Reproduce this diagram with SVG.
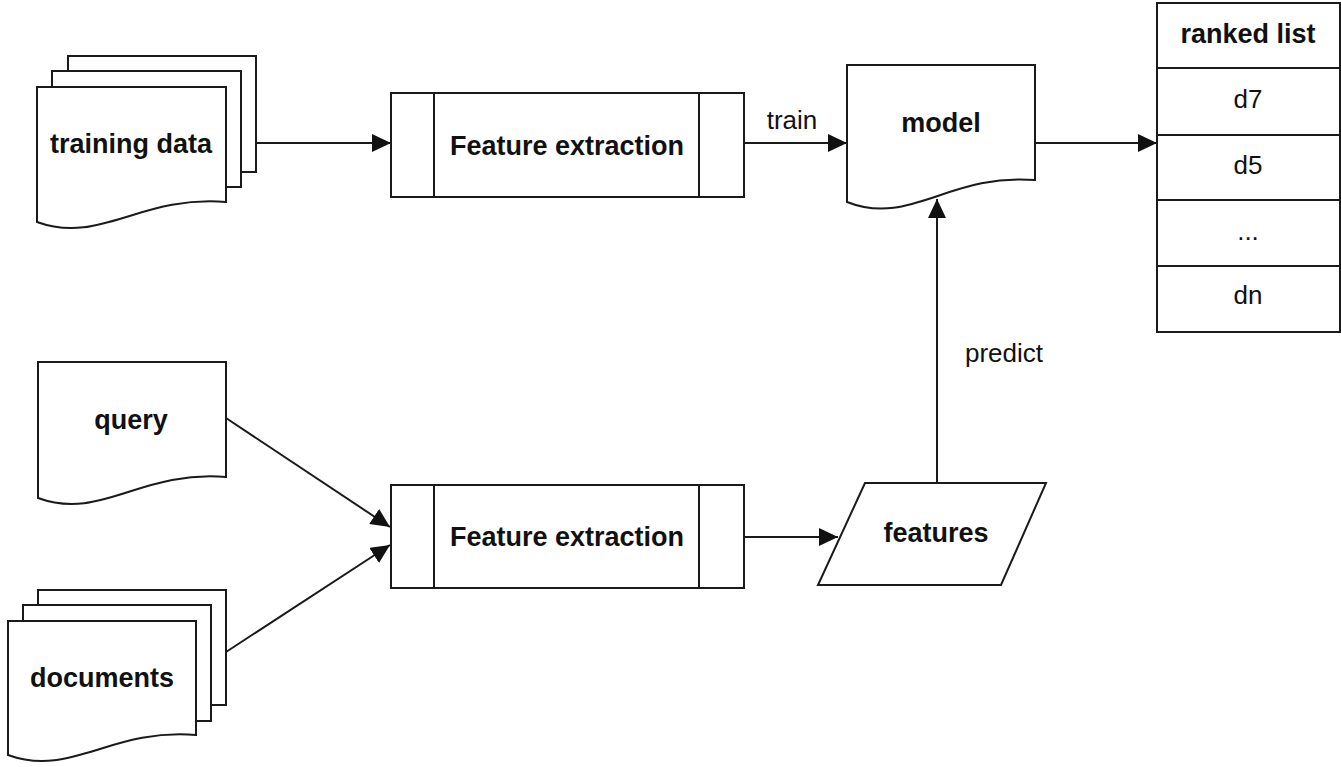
<svg xmlns="http://www.w3.org/2000/svg" width="1341" height="767" viewBox="0 0 1341 767">
  <defs>
    <style>
      .shape { fill: #ffffff; stroke: #1a1a1a; stroke-width: 2; }
      .line { fill: none; stroke: #1a1a1a; stroke-width: 2; }
      .conn { fill: none; stroke: #1a1a1a; stroke-width: 2; marker-end: url(#arrow); }
      .bold { font-family: "Liberation Sans", Arial, sans-serif; font-weight: bold; font-size: 27px; fill: #111; text-anchor: middle; }
      .reg { font-family: "Liberation Sans", Arial, sans-serif; font-size: 26px; fill: #111; text-anchor: middle; }
      .start { text-anchor: start; }
    </style>
    <marker id="arrow" markerUnits="userSpaceOnUse" markerWidth="19" markerHeight="18" refX="19" refY="9" orient="auto">
      <path d="M0,0 L19,9 L0,18 Z" fill="#111"/>
    </marker>
  </defs>
  <rect width="1341" height="767" fill="#ffffff"/>

  <g id="training-data">
    <rect class="shape" x="68" y="56" width="188" height="116"/>
    <rect class="shape" x="52" y="71" width="189" height="116"/>
    <path class="shape" d="M37,87 H226 V202 C140,195 100,245 37,222 Z"/>
    <text class="bold" x="131" y="153">training data</text>
  </g>

  <g id="feature-extraction-1">
    <rect class="shape" x="391" y="93" width="353" height="104"/>
    <line class="line" x1="434" y1="93" x2="434" y2="197"/>
    <line class="line" x1="699" y1="93" x2="699" y2="197"/>
    <text class="bold" x="567" y="155">Feature extraction</text>
  </g>

  <g id="model">
    <path class="shape" d="M847,65 H1035 V180 C949,173 910,227 847,202 Z"/>
    <text class="bold" x="941" y="132">model</text>
  </g>

  <g id="ranked-list">
    <rect class="shape" x="1157" y="3" width="183" height="329"/>
    <line class="line" x1="1157" y1="68" x2="1340" y2="68"/>
    <line class="line" x1="1157" y1="135" x2="1340" y2="135"/>
    <line class="line" x1="1157" y1="200" x2="1340" y2="200"/>
    <line class="line" x1="1157" y1="266" x2="1340" y2="266"/>
    <text class="bold" x="1248" y="43" font-size="26">ranked list</text>
    <text class="reg" x="1248" y="108">d7</text>
    <text class="reg" x="1248" y="174">d5</text>
    <text class="reg" x="1248" y="240">...</text>
    <text class="reg" x="1248" y="304">dn</text>
  </g>

  <g id="query">
    <path class="shape" d="M38,362 H226 V477 C140,470 101,521 38,498 Z"/>
    <text class="bold" x="131" y="429">query</text>
  </g>

  <g id="documents">
    <rect class="shape" x="38" y="590" width="188" height="115"/>
    <rect class="shape" x="23" y="605" width="188" height="116"/>
    <path class="shape" d="M8,621 H196 V735 C110,728 71,778 8,755 Z"/>
    <text class="bold" x="102" y="687">documents</text>
  </g>

  <g id="feature-extraction-2">
    <rect class="shape" x="391" y="485" width="353" height="103"/>
    <line class="line" x1="434" y1="485" x2="434" y2="588"/>
    <line class="line" x1="699" y1="485" x2="699" y2="588"/>
    <text class="bold" x="567" y="546">Feature extraction</text>
  </g>

  <g id="features">
    <path class="shape" d="M865,483 H1046 L1001,585 H818 Z"/>
    <text class="bold" x="936" y="542">features</text>
  </g>

  <g id="connectors">
    <line class="conn" x1="256" y1="143" x2="391" y2="143"/>
    <line class="conn" x1="744" y1="143" x2="847" y2="143"/>
    <line class="conn" x1="1035" y1="143" x2="1157" y2="143"/>
    <line class="conn" x1="937" y1="483" x2="937" y2="199"/>
    <line class="conn" x1="226" y1="418" x2="390" y2="527"/>
    <line class="conn" x1="226" y1="652" x2="390" y2="545"/>
    <line class="conn" x1="744" y1="537" x2="838" y2="537"/>
    <text class="reg" x="792" y="129">train</text>
    <text class="reg start" x="965" y="362">predict</text>
  </g>
</svg>
